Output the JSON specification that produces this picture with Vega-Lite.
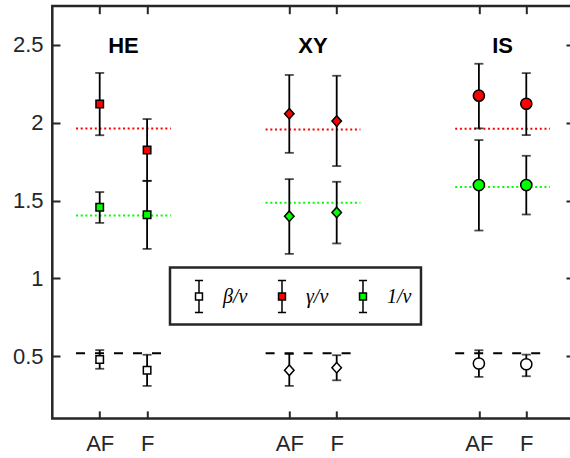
{
  "$schema": "https://vega.github.io/schema/vega-lite/v6.json",
  "width": 521.4,
  "height": 412.6,
  "autosize": {"type": "none"},
  "padding": {"left": 52.3, "top": 6, "right": 0, "bottom": 39},
  "background": "white",
  "config": {
    "view": {"stroke": "#262626", "strokeWidth": 2.5},
    "axis": {"grid": false, "domain": false, "tickColor": "#262626", "tickWidth": 2, "tickSize": -7.7,
             "labelFont": "Liberation Sans", "labelFontSize": 22, "labelColor": "#262626"}
  },
  "datasets": {
    "main": [
      {"grp": "HE", "cond": "AF", "pos": 1, "series": "β/ν", "v": 0.48, "lo": 0.42, "hi": 0.54},
      {"grp": "HE", "cond": "F", "pos": 2, "series": "β/ν", "v": 0.41, "lo": 0.31, "hi": 0.51},
      {"grp": "HE", "cond": "AF", "pos": 1, "series": "γ/ν", "v": 2.12, "lo": 1.92, "hi": 2.32},
      {"grp": "HE", "cond": "F", "pos": 2, "series": "γ/ν", "v": 1.825, "lo": 1.627, "hi": 2.024},
      {"grp": "HE", "cond": "AF", "pos": 1, "series": "1/ν", "v": 1.458, "lo": 1.357, "hi": 1.555},
      {"grp": "HE", "cond": "F", "pos": 2, "series": "1/ν", "v": 1.409, "lo": 1.19, "hi": 1.627},
      {"grp": "XY", "cond": "AF", "pos": 5, "series": "β/ν", "v": 0.41, "lo": 0.31, "hi": 0.515},
      {"grp": "XY", "cond": "F", "pos": 6, "series": "β/ν", "v": 0.427, "lo": 0.346, "hi": 0.507},
      {"grp": "XY", "cond": "AF", "pos": 5, "series": "γ/ν", "v": 2.058, "lo": 1.807, "hi": 2.307},
      {"grp": "XY", "cond": "F", "pos": 6, "series": "γ/ν", "v": 2.011, "lo": 1.722, "hi": 2.302},
      {"grp": "XY", "cond": "AF", "pos": 5, "series": "1/ν", "v": 1.4, "lo": 1.158, "hi": 1.638},
      {"grp": "XY", "cond": "F", "pos": 6, "series": "1/ν", "v": 1.424, "lo": 1.225, "hi": 1.621},
      {"grp": "IS", "cond": "AF", "pos": 9, "series": "β/ν", "v": 0.454, "lo": 0.368, "hi": 0.539},
      {"grp": "IS", "cond": "F", "pos": 10, "series": "β/ν", "v": 0.449, "lo": 0.372, "hi": 0.511},
      {"grp": "IS", "cond": "AF", "pos": 9, "series": "γ/ν", "v": 2.174, "lo": 1.964, "hi": 2.379},
      {"grp": "IS", "cond": "F", "pos": 10, "series": "γ/ν", "v": 2.122, "lo": 1.921, "hi": 2.319},
      {"grp": "IS", "cond": "AF", "pos": 9, "series": "1/ν", "v": 1.6, "lo": 1.308, "hi": 1.889},
      {"grp": "IS", "cond": "F", "pos": 10, "series": "1/ν", "v": 1.6, "lo": 1.411, "hi": 1.788}
    ],
    "refs": [
      {"grp": "HE", "series": "β/ν", "y": 0.52, "x1": 0.5, "x2": 2.5},
      {"grp": "HE", "series": "γ/ν", "y": 1.964, "x1": 0.5, "x2": 2.5},
      {"grp": "HE", "series": "1/ν", "y": 1.405, "x1": 0.5, "x2": 2.5},
      {"grp": "XY", "series": "β/ν", "y": 0.52, "x1": 4.5, "x2": 6.5},
      {"grp": "XY", "series": "γ/ν", "y": 1.957, "x1": 4.5, "x2": 6.5},
      {"grp": "XY", "series": "1/ν", "y": 1.486, "x1": 4.5, "x2": 6.5},
      {"grp": "IS", "series": "β/ν", "y": 0.52, "x1": 8.5, "x2": 10.5},
      {"grp": "IS", "series": "γ/ν", "y": 1.961, "x1": 8.5, "x2": 10.5},
      {"grp": "IS", "series": "1/ν", "y": 1.587, "x1": 8.5, "x2": 10.5}
    ],
    "titles": [
      {"label": "HE", "pos": 1.5, "y": 2.49},
      {"label": "XY", "pos": 5.5, "y": 2.49},
      {"label": "IS", "pos": 9.5, "y": 2.49}
    ]
  },
  "layer": [
    {
      "data": {"name": "refs"},
      "mark": {"type": "rule", "strokeWidth": 2},
      "encoding": {
        "x": {"field": "x1", "type": "quantitative", "scale": {"domain": [0, 11], "nice": false, "zero": false},
              "axis": {"orient": "top", "values": [1, 2, 5, 6, 9, 10], "labels": false, "title": null}},
        "x2": {"field": "x2"},
        "y": {"field": "y", "type": "quantitative", "scale": {"domain": [0.1, 2.75], "nice": false, "zero": false},
              "axis": {"orient": "right", "values": [0.5, 1, 1.5, 2, 2.5], "labels": false, "title": null}},
        "stroke": {"field": "series", "type": "nominal", "scale": {"domain": ["γ/ν", "1/ν", "β/ν"], "range": ["#ff0000", "#00ff00", "#000000"]}, "legend": null},
        "strokeDash": {"field": "series", "type": "nominal", "scale": {"domain": ["1/ν", "β/ν", "γ/ν"], "range": [[2, 2.7], [9, 10], [2, 2.7]]}, "legend": null}
      }
    },
    {
      "data": {"name": "main"},
      "mark": {"type": "errorbar", "ticks": true, "size": 9, "thickness": 1.8, "color": "black"},
      "encoding": {
        "x": {"field": "pos", "type": "quantitative", "axis": null},
        "y": {"field": "lo", "type": "quantitative", "axis": null},
        "y2": {"field": "hi"}
      }
    },
    {
      "data": {"name": "main"},
      "mark": {"type": "point", "filled": true, "stroke": "black", "strokeWidth": 1.5, "opacity": 1},
      "encoding": {
        "x": {"field": "pos", "type": "quantitative",
              "axis": {"orient": "bottom", "values": [1, 2, 5, 6, 9, 10], "labelExpr": "datum.value % 4 == 1 ? 'AF' : 'F'", "labelPadding": 22.5, "title": null}},
        "y": {"field": "v", "type": "quantitative",
              "axis": {"orient": "left", "values": [0.5, 1, 1.5, 2, 2.5], "format": "~g", "labelPadding": 17, "title": null}},
        "fill": {"field": "series", "type": "nominal", "scale": {"domain": ["β/ν", "γ/ν", "1/ν"], "range": ["#ffffff", "#ff0000", "#00ff00"]},
                 "legend": {
                   "orient": "none", "legendX": 117.7, "legendY": 261.5, "direction": "horizontal", "title": null,
                   "symbolType": "M-0.21,-0.83H0.21M0,-0.83V-0.18M-0.18,-0.18H0.18V0.18H-0.18ZM0,0.18V0.83M-0.21,0.83H0.21",
                   "symbolSize": 1482, "symbolStrokeColor": "black", "symbolStrokeWidth": 1.5, "symbolOpacity": 1,
                   "labelFont": "Liberation Serif", "labelFontStyle": "italic", "labelFontSize": 20, "labelColor": "black", "labelOffset": 4,
                   "columnPadding": 14, "padding": 9, "strokeColor": "#262626", "fillColor": "white",
                   "encode": {"legend": {"update": {"strokeWidth": {"value": 2.5}}}}
                 }},
        "shape": {"field": "grp", "type": "nominal", "scale": {"domain": ["HE", "XY", "IS"], "range": ["square", "M0,-1.1L1,0L0,1.1L-1,0Z", "circle"]}, "legend": null},
        "size": {"field": "grp", "type": "ordinal", "scale": {"domain": ["HE", "XY", "IS"], "range": [56, 125, 100]}, "legend": null}
      }
    },
    {
      "data": {"name": "titles"},
      "mark": {"type": "text", "font": "Liberation Sans", "fontSize": 22, "fontWeight": "bold", "baseline": "middle", "align": "center", "color": "black"},
      "encoding": {
        "x": {"field": "pos", "type": "quantitative", "axis": null},
        "y": {"field": "y", "type": "quantitative", "axis": null},
        "text": {"field": "label"}
      }
    }
  ]
}
